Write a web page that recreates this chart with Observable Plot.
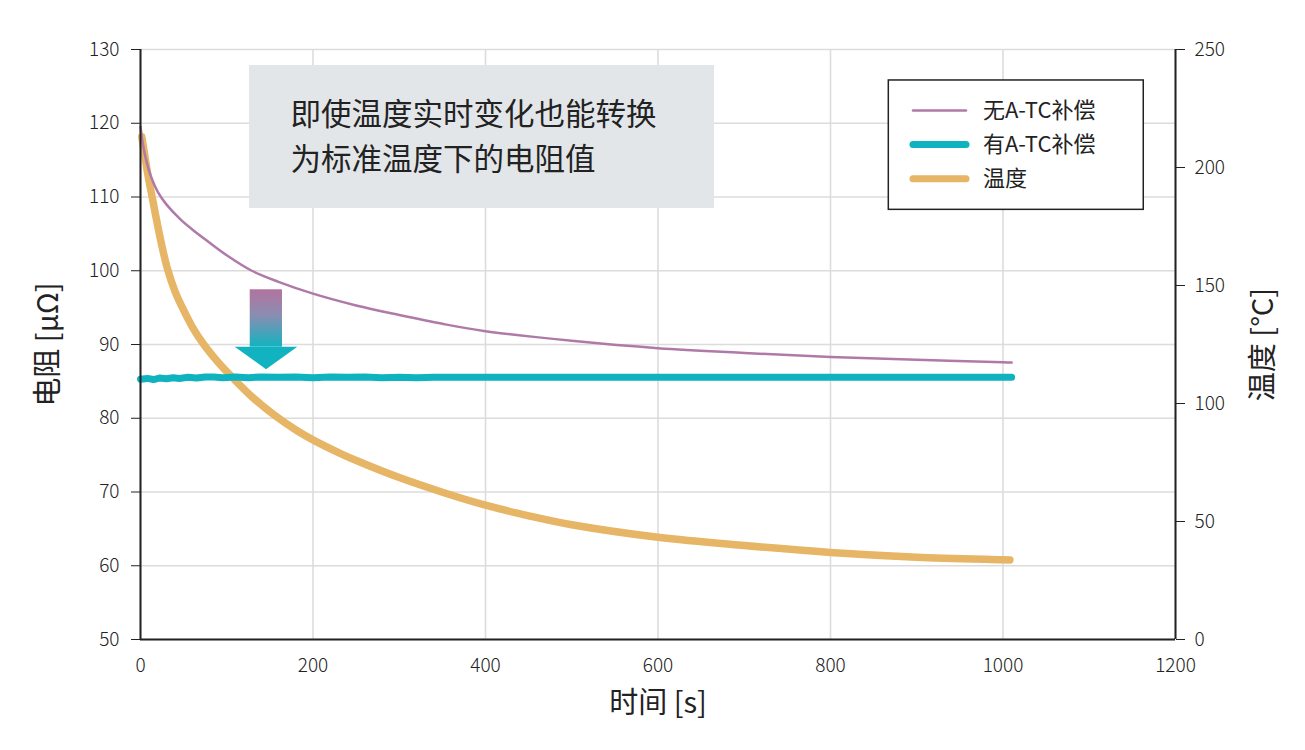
<!DOCTYPE html>
<html>
<head>
<meta charset="utf-8">
<script src="https://cdn.jsdelivr.net/npm/d3@7"></script>
<script src="https://cdn.jsdelivr.net/npm/@observablehq/plot@0.6"></script>
<style>
  html, body { margin: 0; padding: 0; background: #fff; }
  #chart { width: 1305px; height: 750px; }
</style>
</head>
<body>
<div id="chart"></div>
<script>
// ---------- data ----------
const xTicks = [0, 200, 400, 600, 800, 1000, 1200];
const leftTicks = [50, 60, 70, 80, 90, 100, 110, 120, 130];
const rightTicks = [0, 50, 100, 150, 200, 250];

// Resistance without A-TC compensation [µΩ]
const noComp_t = [0, 3, 7, 13, 20, 30, 46, 60, 79, 100, 129, 160, 200, 250, 300, 350, 400, 500, 600, 700, 800, 900, 1000, 1010];
const noComp_v = [119.5, 117.0, 114.8, 112.5, 110.7, 109.0, 107.0, 105.6, 103.9, 102.1, 100.0, 98.5, 96.9, 95.3, 94.0, 92.8, 91.8, 90.5, 89.5, 88.85, 88.3, 87.92, 87.6, 87.55];

// Resistance with A-TC compensation [µΩ]
const comp_t = [0, 8, 15, 22, 30, 38, 45, 55, 65, 75, 85, 95, 110, 125, 140, 160, 180, 200, 220, 240, 260, 280, 300, 320, 340, 400, 600, 800, 1010];
const comp_v = [85.3, 85.4, 85.25, 85.45, 85.35, 85.5, 85.4, 85.55, 85.45, 85.6, 85.6, 85.5, 85.6, 85.5, 85.6, 85.55, 85.6, 85.5, 85.6, 85.55, 85.6, 85.5, 85.55, 85.5, 85.57, 85.57, 85.57, 85.57, 85.57];

// Temperature [°C]
const temp_t = [1.5, 5, 9, 13.5, 19.3, 25, 30.9, 40, 48.3, 60, 73.4, 90, 108, 130, 155, 182, 201, 232, 253, 300, 350, 400, 450, 500, 600, 700, 800, 900, 1000, 1008];
const temp_v = [213, 205, 196, 187.5, 176.5, 166.5, 157.5, 147.5, 140.8, 132.5, 125, 117.5, 110.5, 102.6, 95.1, 88.35, 84.4, 78.8, 75.4, 68.6, 62.4, 56.9, 52.4, 48.6, 43.3, 39.8, 36.9, 34.9, 33.8, 33.7];

const seriesNames = ["无A-TC补偿", "有A-TC补偿", "温度"];
const seriesColors = ["#b07aa8", "#0fb3c0", "#e6b565"];
const annotationLines = ["即使温度实时变化也能转换", "为标准温度下的电阻值"];

// ---------- helpers ----------
const leftDomain = [50, 130];
const rightDomain = [0, 250];
const toLeft = (v) => leftDomain[0] + (v - rightDomain[0]) * (leftDomain[1] - leftDomain[0]) / (rightDomain[1] - rightDomain[0]);
const fromLeft = (v) => rightDomain[0] + (v - leftDomain[0]) * (rightDomain[1] - rightDomain[0]) / (leftDomain[1] - leftDomain[0]);

const noComp = noComp_t.map((t, i) => ({t, v: noComp_v[i]}));
const comp = comp_t.map((t, i) => ({t, v: comp_v[i]}));
const temp = temp_t.map((t, i) => ({t, v: toLeft(temp_v[i])}));

// annotation placement (data units)
const noteBox = {x1: 126.4, x2: 665.5, y1: 108.44, y2: 127.83};
const noteText = annotationLines.map((s, i) => ({s, x: 173.9, y: [121.05, 114.95][i]}));
const legendBox = {x1: 867.6, x2: 1163.2, y1: 108.26, y2: 125.8};
const legendRows = seriesNames.map((name, i) => ({name, color: seriesColors[i], w: [2.5, 7, 7][i], y: [121.73, 117.12, 112.47][i]}));
const arrowShaft = {x1: 127.2, x2: 164.6, y1: 89.64, y2: 97.42};
const arrowHead = [{x: 109.8, y1: 89.64, y2: 89.64}, {x: 146.1, y1: 86.57, y2: 89.64}, {x: 182.4, y1: 89.64, y2: 89.64}];

const FONT = '"Noto Sans CJK SC", "Noto Sans", sans-serif';

const defsMark = () => {
  const defs = d3.create("svg:defs");
  const g = defs.append("linearGradient").attr("id", "arrowGrad").attr("x1", 0).attr("y1", 0).attr("x2", 0).attr("y2", 1);
  g.append("stop").attr("offset", "0").attr("stop-color", "#b3739f");
  g.append("stop").attr("offset", "0.45").attr("stop-color", "#8a8db1");
  g.append("stop").attr("offset", "1").attr("stop-color", "#12b3c1");
  return defs.node();
};

const chart = Plot.plot({
  width: 1305,
  height: 750,
  marginLeft: 140,
  marginRight: 130,
  marginTop: 49,
  marginBottom: 111,
  x: {domain: [0, 1200]},
  y: {domain: leftDomain},
  style: {fontFamily: FONT, background: "#fff", color: "#222", overflow: "visible"},
  marks: [
    defsMark,
    Plot.gridX(xTicks, {stroke: "#dcdcdc", strokeOpacity: 1, strokeWidth: 1.6}),
    Plot.gridY(leftTicks, {stroke: "#dcdcdc", strokeOpacity: 1, strokeWidth: 1.6}),
    // annotation box
    Plot.rect([noteBox], {x1: "x1", x2: "x2", y1: "y1", y2: "y2", fill: "#e3e6e9"}),
    Plot.text(noteText, {x: "x", y: "y", text: "s", textAnchor: "start", fontSize: 30.5, fill: "#222"}),
    // legend
    Plot.rect([legendBox], {x1: "x1", x2: "x2", y1: "y1", y2: "y2", fill: "#fff", stroke: "#222", strokeWidth: 1.5}),
    ...legendRows.map(d => Plot.ruleY([d.y], {x1: 896.2, x2: 957.7, stroke: d.color, strokeWidth: d.w, strokeLinecap: "round"})),
    Plot.text(legendRows, {x: 976.8, y: "y", text: "name", textAnchor: "start", fontSize: 22, fill: "#222"}),
    // series
    Plot.line(temp, {x: "t", y: "v", stroke: seriesColors[2], strokeWidth: 7.5, curve: "catmull-rom", strokeLinecap: "round"}),
    Plot.line(comp, {x: "t", y: "v", stroke: seriesColors[1], strokeWidth: 7, curve: "linear"}),
    Plot.line(noComp, {x: "t", y: "v", stroke: seriesColors[0], strokeWidth: 2.5, curve: "catmull-rom"}),
    // arrow
    Plot.rect([arrowShaft], {x1: "x1", x2: "x2", y1: "y1", y2: "y2", fill: "url(#arrowGrad)"}),
    Plot.areaY(arrowHead, {x: "x", y1: "y1", y2: "y2", fill: "#12b3c1"}),
    // axes
    Plot.axisY({ticks: leftTicks, anchor: "left", tickSize: 9, tickPadding: 12, fontSize: 19, fontWeight: 300, label: null, tickFormat: d => String(d)}),
    Plot.axisY({ticks: rightTicks.map(toLeft), anchor: "right", tickSize: 9, tickPadding: 10, fontSize: 19, fontWeight: 300, label: null, tickFormat: d => String(Math.round(fromLeft(d)))}),
    Plot.axisX({ticks: xTicks, anchor: "bottom", tickSize: 0, tickPadding: 19, fontSize: 19, fontWeight: 300, label: null, tickFormat: d => String(d)}),
    Plot.ruleX([0], {stroke: "#222", strokeWidth: 2}),
    Plot.ruleX([1200], {stroke: "#222", strokeWidth: 2}),
    Plot.ruleY([50], {stroke: "#222", strokeWidth: 2}),
    // axis titles
    Plot.text(["时间 [s]"], {frameAnchor: "bottom", dy: 73, fontSize: 29, fill: "#222", textAnchor: "middle"}),
    Plot.text(["电阻 [μΩ]"], {frameAnchor: "left", dx: -92, rotate: -90, fontSize: 29, fill: "#222", textAnchor: "middle"}),
    Plot.text(["温度 [°C]"], {frameAnchor: "right", dx: 88, rotate: -90, fontSize: 29, fill: "#222", textAnchor: "middle"})
  ]
});
document.getElementById("chart").appendChild(chart);
</script>
</body>
</html>
